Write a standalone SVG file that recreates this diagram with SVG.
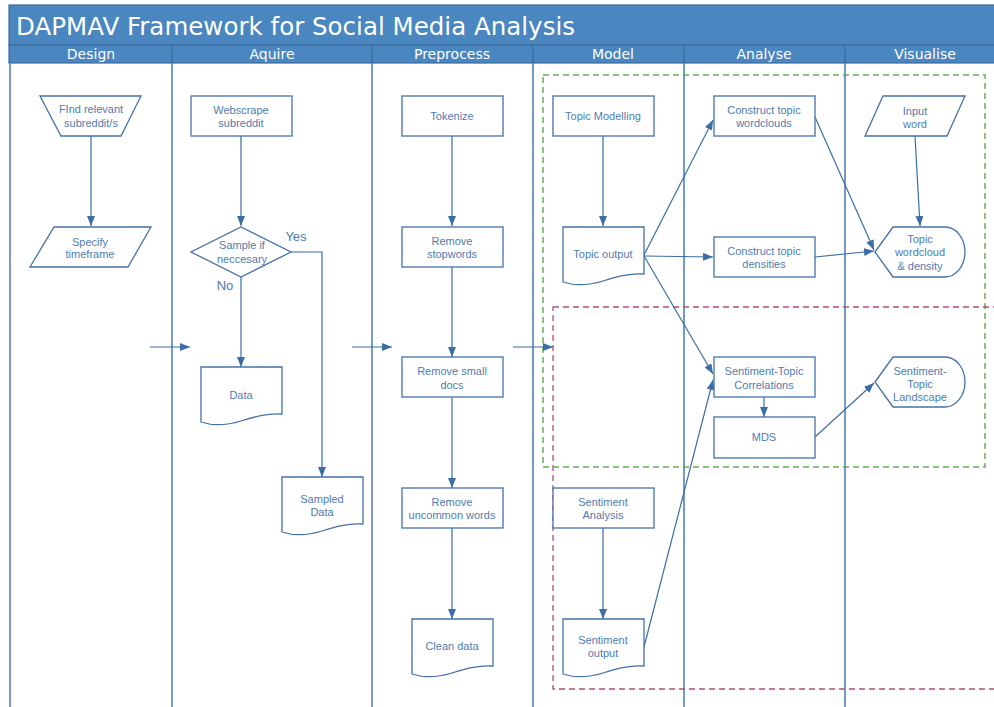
<svg xmlns="http://www.w3.org/2000/svg" width="994" height="707" viewBox="0 0 994 707">
<style>
.bar{fill:#4a86c0;stroke:#3a6c9e;stroke-width:1.2}
.lane{stroke:#4a7bb0;stroke-width:1.5;fill:none}
.node{fill:#fff;stroke:#4472a8;stroke-width:1.3}
.t{font-family:"Liberation Sans",Arial,sans-serif;font-size:11px;fill:#4f7cb0;text-anchor:middle}
.lbl{font-family:"Liberation Sans",Arial,sans-serif;font-size:13px;fill:#4a78ad;text-anchor:middle}
.hdr{font-family:"DejaVu Sans",sans-serif;font-size:14px;fill:#fff;text-anchor:middle}
.title{font-family:"DejaVu Sans",sans-serif;font-size:25px;fill:#fff}
.c{fill:none;stroke:#3a6ea5;stroke-width:1.2;marker-end:url(#ah)}
</style>
<defs>
<marker id="ah" markerWidth="10" markerHeight="8" refX="10" refY="4" orient="auto" markerUnits="userSpaceOnUse">
<path d="M0,0 L10,4 L0,8 z" fill="#3a6ea5"/>
</marker>
<path id="doc" d="M0,0 H81 V47 C66,46 53,50 40,54 C27,58 12,59 0,55 Z"/>
</defs>
<rect width="994" height="707" fill="#fff"/>
<g id="pool">
<rect class="bar" x="9" y="5" width="995" height="40"/>
<text class="title" x="16" y="35" textLength="559" lengthAdjust="spacingAndGlyphs">DAPMAV Framework for Social Media Analysis</text>
<rect class="bar" x="9" y="45" width="995" height="18"/>
<line x1="172" y1="45" x2="172" y2="63" stroke="#3a6c9e" stroke-width="1.2"/>
<line x1="372" y1="45" x2="372" y2="63" stroke="#3a6c9e" stroke-width="1.2"/>
<line x1="533" y1="45" x2="533" y2="63" stroke="#3a6c9e" stroke-width="1.2"/>
<line x1="684" y1="45" x2="684" y2="63" stroke="#3a6c9e" stroke-width="1.2"/>
<line x1="845" y1="45" x2="845" y2="63" stroke="#3a6c9e" stroke-width="1.2"/>
<text class="hdr" x="91" y="59">Design</text>
<text class="hdr" x="272" y="59">Aquire</text>
<text class="hdr" x="452" y="59">Preprocess</text>
<text class="hdr" x="613" y="59">Model</text>
<text class="hdr" x="764" y="59">Analyse</text>
<text class="hdr" x="925" y="59">Visualise</text>
<path class="lane" d="M10,63 V707 M172,63 V707 M372,63 V707 M533,63 V707 M684,63 V707 M845,63 V707"/>
</g>
<g id="groups">
<rect x="543" y="75" width="442" height="392" fill="none" stroke="#5fb350" stroke-width="1.5" stroke-dasharray="6,4"/>
<rect x="553" y="307" width="470" height="382" fill="none" stroke="#b04f7c" stroke-width="1.3" stroke-dasharray="6,4"/>
</g>
<g id="connectors">
<path class="c" d="M91,136 V226"/>
<path class="c" d="M241,136 V226"/>
<path class="c" d="M241,277 V367"/>
<path class="c" d="M291,252 H322 V477"/>
<path class="c" d="M452,136 V226"/>
<path class="c" d="M452,267 V357"/>
<path class="c" d="M452,397 V488"/>
<path class="c" d="M452,528 V619"/>
<path class="c" d="M603,136 V226"/>
<path class="c" d="M603,528 V619"/>
<path class="c" d="M644,255 L713,120"/>
<path class="c" d="M644,256 L713,257"/>
<path class="c" d="M644,256 L713,374"/>
<path class="c" d="M644,647 L713,380"/>
<path class="c" d="M815,117 L874,250"/>
<path class="c" d="M815,257 L874,251"/>
<path class="c" d="M915,136 L920,226"/>
<path class="c" d="M764,397 V417"/>
<path class="c" d="M815,437 L874,383"/>
<path class="c" d="M150,347 H190"/>
<path class="c" d="M352,347 H392"/>
<path class="c" d="M513,347 H553"/>
</g>
<text class="lbl" x="296" y="241">Yes</text>
<text class="lbl" x="225" y="290">No</text>
<g id="find">
<path class="node" d="M40,96 H141 L121,136 H61 Z"/>
<text class="t" x="91" y="113">FInd relevant</text>
<text class="t" x="91" y="127">subreddit/s</text>
</g>
<g id="specify">
<path class="node" d="M54,227 H151 L128,267 H30 Z"/>
<text class="t" x="90" y="246">Specify</text>
<text class="t" x="90" y="258">timeframe</text>
</g>
<g id="webscrape">
<rect class="node" x="191" y="96" width="101" height="40"/>
<text class="t" x="241" y="114">Webscrape</text>
<text class="t" x="241" y="127">subreddit</text>
</g>
<g id="sample">
<path class="node" d="M241,227 L291,252 L241,277 L191,252 Z"/>
<text class="t" x="242" y="249">Sample if</text>
<text class="t" x="242" y="263">neccesary</text>
</g>
<g id="data">
<use href="#doc" class="node" x="201" y="367"/>
<text class="t" x="241" y="399">Data</text>
</g>
<g id="sampled">
<use href="#doc" class="node" x="282" y="477"/>
<text class="t" x="322" y="503">Sampled</text>
<text class="t" x="322" y="516">Data</text>
</g>
<g id="tokenize">
<rect class="node" x="402" y="96" width="101" height="40"/>
<text class="t" x="452" y="120">Tokenize</text>
</g>
<g id="stopwords">
<rect class="node" x="402" y="227" width="101" height="40"/>
<text class="t" x="452" y="245">Remove</text>
<text class="t" x="452" y="258">stopwords</text>
</g>
<g id="smalldocs">
<rect class="node" x="402" y="357" width="101" height="40"/>
<text class="t" x="452" y="375">Remove small</text>
<text class="t" x="452" y="389">docs</text>
</g>
<g id="uncommon">
<rect class="node" x="402" y="488" width="101" height="40"/>
<text class="t" x="452" y="506">Remove</text>
<text class="t" x="452" y="519">uncommon words</text>
</g>
<g id="clean">
<use href="#doc" class="node" x="412" y="619"/>
<text class="t" x="452" y="650">Clean data</text>
</g>
<g id="topicmodel">
<rect class="node" x="553" y="96" width="101" height="40"/>
<text class="t" x="603" y="120">Topic Modelling</text>
</g>
<g id="topicout">
<use href="#doc" class="node" x="563" y="227"/>
<text class="t" x="603" y="258">Topic output</text>
</g>
<g id="sentiment">
<rect class="node" x="553" y="488" width="101" height="40"/>
<text class="t" x="603" y="506">Sentiment</text>
<text class="t" x="603" y="519">Analysis</text>
</g>
<g id="sentout">
<use href="#doc" class="node" x="563" y="619"/>
<text class="t" x="603" y="644">Sentiment</text>
<text class="t" x="603" y="657">output</text>
</g>
<g id="wordclouds">
<rect class="node" x="714" y="96" width="101" height="40"/>
<text class="t" x="764" y="114">Construct topic</text>
<text class="t" x="764" y="127">wordclouds</text>
</g>
<g id="densities">
<rect class="node" x="714" y="237" width="101" height="40"/>
<text class="t" x="764" y="255">Construct topic</text>
<text class="t" x="764" y="268">densities</text>
</g>
<g id="correlations">
<rect class="node" x="714" y="357" width="101" height="40"/>
<text class="t" x="764" y="375">Sentiment-Topic</text>
<text class="t" x="764" y="389">Correlations</text>
</g>
<g id="mds">
<rect class="node" x="714" y="417" width="101" height="41"/>
<text class="t" x="764" y="441">MDS</text>
</g>
<g id="inputword">
<path class="node" d="M883,96 H965 L947,136 H865 Z"/>
<text class="t" x="915" y="115">Input</text>
<text class="t" x="915" y="128">word</text>
</g>
<g id="wordcloud">
<path class="node" d="M875,252 L893,227 H945 A20,25 0 0 1 945,277 H893 Z"/>
<text class="t" x="920" y="243">Topic</text>
<text class="t" x="920" y="256">wordcloud</text>
<text class="t" x="920" y="270">&amp; density</text>
</g>
<g id="landscape">
<path class="node" d="M875,382 L893,357 H945 A20,25 0 0 1 945,407 H893 Z"/>
<text class="t" x="920" y="375">Sentiment-</text>
<text class="t" x="920" y="388">Topic</text>
<text class="t" x="920" y="401">Landscape</text>
</g>
</svg>
